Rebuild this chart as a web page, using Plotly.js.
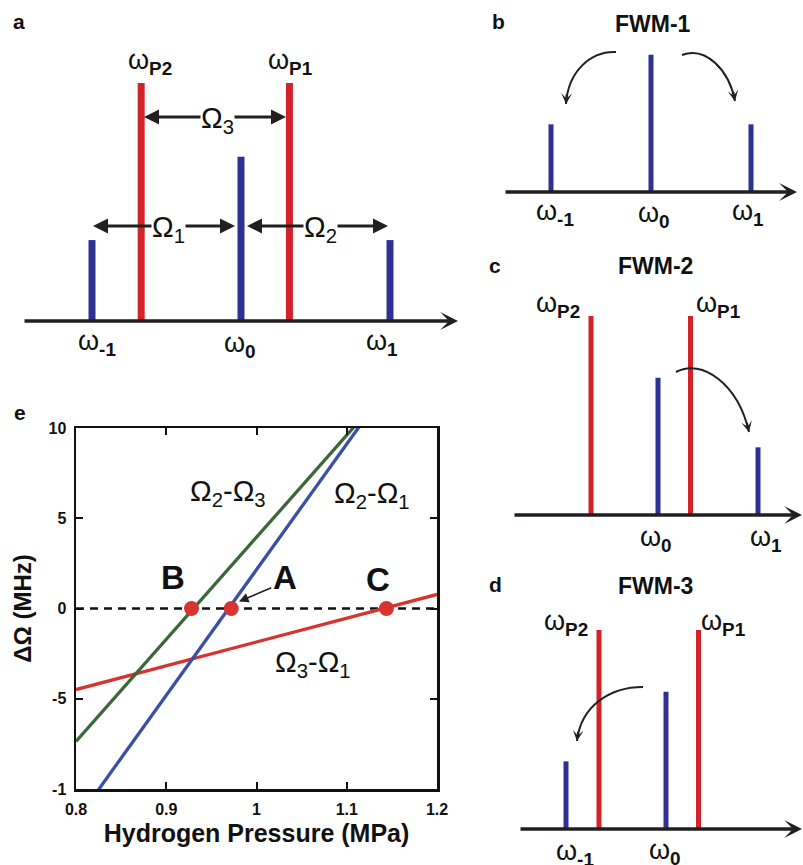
<!DOCTYPE html>
<html><head><meta charset="utf-8">
<script src="https://cdn.plot.ly/plotly-3.0.1.min.js"></script>
<style>html,body{margin:0;padding:0;background:#fff}#chart{width:803px;height:865px}</style>
</head><body><div id="chart"></div>
<script>
// ---------- spectra data (panels a-d) ----------
const bandSubs   = ['-1','P2','0','P1','1'];
const bandFreq   = [-1, -0.67, 0, 0.325, 1];
const bandAmp    = [0.34, 1, 0.69, 1, 0.34];
const bandIsPump = [false, true, false, true, false];
const panelBands = { a:[0,1,2,3,4], b:[0,2,4], c:[1,2,3,4], d:[0,1,2,3] };
const panelTitles = { b:'FWM-1', c:'FWM-2', d:'FWM-3' };
const shiftLabels = ['Ω<sub>1</sub>','Ω<sub>2</sub>','Ω<sub>3</sub>'];

// ---------- panel e data ----------
const pressureTicks    = [0.8, 0.9, 1.0, 1.1, 1.2];
const pressureTickText = ['0.8','0.9','1','1.1','1.2'];
const detuneTicks      = [-10, -5, 0, 5, 10];
const detuneTickText   = ['-1','-5','0','5','10'];
const p23 = [0.80, 0.90, 1.00, 1.10, 1.13];
const d23 = [-7.37, -1.71, 3.95, 9.61, 11.3];
const p21 = [0.82, 0.90, 1.00, 1.10, 1.13];
const d21 = [-10.38, -4.80, 2.16, 9.13, 11.2];
const p31 = [0.80, 0.90, 1.00, 1.10, 1.20];
const d31 = [-4.49, -3.17, -1.85, -0.53, 0.78];
const zeroP = [0.8, 1.2];
const zeroD = [0, 0];
const matchNames = ['B','A','C'];
const matchP = [0.928, 0.972, 1.144];
const matchD = [0, 0, 0];
const curveNames = ['Ω<sub>2</sub>-Ω<sub>3</sub>','Ω<sub>2</sub>-Ω<sub>1</sub>','Ω<sub>3</sub>-Ω<sub>1</sub>'];

// ---------- geometry / style ----------
const W = 803, H = 865;
const FONT = 'Liberation Sans, Arial, Helvetica, sans-serif';
const INK = '#231f20';
const RED = '#d2232a', BLUE = '#2e3192';
const PX = px => px / W, PY = py => 1 - py / H;

const geo = {
  a:{n:'',  origin:241, sx:149, base:321, sy:238, box:[0,475,28,368],   bw:0.047, tail:23,  tip:458, lw:3.5},
  b:{n:'2', origin:651, sx:100, base:192, sy:199, box:[488,803,32,238], bw:0.05,  tail:504, tip:797, lw:3.5},
  c:{n:'3', origin:658, sx:100, base:515, sy:199, box:[488,803,275,562],bw:0.05,  tail:513, tip:802, lw:3.5},
  d:{n:'4', origin:666, sx:100, base:829, sy:199, box:[488,803,592,865],bw:0.05,  tail:519, tip:806, lw:3.5}
};
const labelPos = {
  a:{0:[97,343],1:[150,62],2:[240,345],3:[290,62],4:[382,343]},
  b:{0:[555,213],2:[654,215],4:[748,213]},
  c:{1:[558,305],3:[718,305],2:[656,539],4:[766,539]},
  d:{1:[566,623],3:[723,623],0:[575,853],2:[665,852]}
};
const letterPos = {a:[19,22], b:[498,22], c:[495,266], d:[495,584], e:[20,412]};
const titlePos = {b:[653,24], c:[655,266], d:[655,586]};

const data = [];
const layout = {
  width: W, height: H,
  margin: {l:0, r:0, t:0, b:0},
  paper_bgcolor: '#fff', plot_bgcolor: 'rgba(0,0,0,0)',
  showlegend: false,
  font: {family: FONT, color: INK},
  annotations: [], shapes: []
};
const ann = layout.annotations, shp = layout.shapes;

function arrow(tipX, tipY, tailX, tailY, w, head, size){
  ann.push({xref:'paper', yref:'paper', x:PX(tipX), y:PY(tipY), ax:tailX-tipX, ay:tailY-tipY,
    text:'', showarrow:true, arrowhead:head, arrowwidth:w, arrowsize:size, arrowcolor:INK, standoff:0, startstandoff:0});
}
function label(px, py, text, size, bold, extra){
  ann.push(Object.assign({xref:'paper', yref:'paper', x:PX(px), y:PY(py), text:text, showarrow:false,
    xanchor:'center', yanchor:'middle', font:{family:FONT, size:size, color:'#111', weight: bold ? 'bold' : 'normal'}}, extra || {}));
}

// spectra panels
Object.keys(geo).forEach(k => {
  const g = geo[k];
  layout['xaxis'+g.n] = {domain:[g.box[0]/W, g.box[1]/W], range:[(g.box[0]-g.origin)/g.sx, (g.box[1]-g.origin)/g.sx],
    visible:false, fixedrange:true, anchor:'y'+g.n};
  layout['yaxis'+g.n] = {domain:[1-g.box[3]/H, 1-g.box[2]/H], range:[(g.base-g.box[3])/g.sy, (g.base-g.box[2])/g.sy],
    visible:false, fixedrange:true, anchor:'x'+g.n};
  const idx = panelBands[k];
  data.push({type:'bar', xaxis:'x'+g.n, yaxis:'y'+g.n,
    x: idx.map(i => bandFreq[i]), y: idx.map(i => bandAmp[i]),
    width: idx.map(() => g.bw),
    marker:{color: idx.map(i => bandIsPump[i] ? RED : BLUE), line:{width:0}},
    hoverinfo:'skip'});
  arrow(g.tip, g.base, g.tail, g.base, g.lw, 3, 0.85);
  idx.forEach(i => { const p = labelPos[k][i]; if (p) label(p[0], p[1], 'ω<sub><b>'+bandSubs[i]+'</b></sub>', 27, false); });
  if (panelTitles[k]) label(titlePos[k][0], titlePos[k][1], panelTitles[k], 23, true);
});
Object.keys(letterPos).forEach(k => label(letterPos[k][0], letterPos[k][1], k, 21, true));

// Omega double arrows in panel a
const omegaArrows = [
  {txt:2, c:[218,117], l:144, r:286, y:117},
  {txt:0, c:[168,226], l:93,  r:235, y:226},
  {txt:1, c:[320,226], l:247, r:388, y:226}
];
omegaArrows.forEach(o => {
  arrow(o.l, o.y, o.c[0], o.y, 3, 2, 1);
  arrow(o.r, o.y, o.c[0], o.y, 3, 2, 1);
});
omegaArrows.forEach(o => label(o.c[0], o.c[1]+3, shiftLabels[o.txt], 29, false, {bgcolor:'#fff', borderpad:0}));

// curved transfer arrows (b, c, d)
const curves = [
  {p:[[616,52],[590,51],[568,72],[566,104]]},
  {p:[[682,55],[706,46],[729,70],[735,101]]},
  {p:[[676,372],[702,358],[738,384],[749,432]]},
  {p:[[643,687],[611,687],[581,705],[577,741]]}
];
curves.forEach(c => {
  const p = c.p;
  shp.push({type:'path', xref:'paper', yref:'paper', layer:'above',
    path:'M'+PX(p[0][0])+','+PY(p[0][1])+' C'+p.slice(1).map(q => PX(q[0])+','+PY(q[1])).join(' '),
    line:{color:INK, width:2}});
  const dx = p[3][0]-p[2][0], dy = p[3][1]-p[2][1], L = Math.hypot(dx,dy);
  arrow(p[3][0], p[3][1], p[3][0]-dx/L*11, p[3][1]-dy/L*11, 2, 3, 0.9);
});

// ---------- panel e ----------
const tickFont = {family:FONT, size:16, color:'#111', weight:'bold'};
layout.xaxis5 = {domain:[76/W, 437/W], range:[0.8, 1.2], anchor:'y5',
  tickvals:pressureTicks, ticktext:pressureTickText, tickfont:tickFont,
  ticks:'inside', ticklen:7, tickwidth:2, tickcolor:'#111',
  showline:true, linewidth:2.5, linecolor:'#111', mirror:'ticks', showgrid:false, zeroline:false,
  ticklabelstandoff:4,
  title:{text:'Hydrogen Pressure (MPa)', font:{family:FONT, size:25, color:'#111', weight:'bold'}, standoff:8}};
layout.yaxis5 = {domain:[1-789/H, 1-428/H], range:[-10, 10], anchor:'x5',
  tickvals:detuneTicks, ticktext:detuneTickText, tickfont:tickFont,
  ticks:'inside', ticklen:7, tickwidth:2, tickcolor:'#111',
  showline:true, linewidth:2.5, linecolor:'#111', mirror:'ticks', showgrid:false, zeroline:false,
  ticklabelstandoff:4,
  title:{text:'ΔΩ (MHz)', font:{family:FONT, size:24, color:'#111', weight:'bold'}, standoff:10}};

data.push({type:'scatter', mode:'lines', xaxis:'x5', yaxis:'y5', x:zeroP, y:zeroD,
  line:{color:'#111', width:2.5, dash:'8px,6px'}, hoverinfo:'skip'});
data.push({type:'scatter', mode:'lines', xaxis:'x5', yaxis:'y5', x:p31, y:d31,
  line:{color:'#d6342f', width:3.3}, hoverinfo:'skip'});
data.push({type:'scatter', mode:'lines', xaxis:'x5', yaxis:'y5', x:p23, y:d23,
  line:{color:'#3c6839', width:3.3}, hoverinfo:'skip'});
data.push({type:'scatter', mode:'lines', xaxis:'x5', yaxis:'y5', x:p21, y:d21,
  line:{color:'#3850a6', width:3.3}, hoverinfo:'skip'});
data.push({type:'scatter', mode:'markers', xaxis:'x5', yaxis:'y5', x:matchP, y:matchD,
  marker:{color:'#d6342f', size:15}, cliponaxis:false, hoverinfo:'skip'});

const matchLabelPos = [[0.907,1.7],[1.032,1.7],[1.135,1.6]];
matchNames.forEach((t,i) => ann.push({xref:'x5', yref:'y5', x:matchLabelPos[i][0], y:matchLabelPos[i][1], text:t,
  showarrow:false, font:{family:FONT, size:33, color:'#111', weight:'bold'}}));
ann.push({xref:'x5', yref:'y5', x:0.9806, y:0.39, axref:'x5', ayref:'y5', ax:1.018, ay:1.18, text:'',
  showarrow:true, arrowhead:2, arrowwidth:1.6, arrowsize:1.2, arrowcolor:INK, standoff:0});
const curveLabelPos = [[0.968,6.4],[1.128,6.3],[1.063,-3.1]];
curveNames.forEach((t,i) => ann.push({xref:'x5', yref:'y5', x:curveLabelPos[i][0], y:curveLabelPos[i][1], text:t,
  showarrow:false, font:{family:FONT, size:29, color:'#111'}}));

Plotly.newPlot('chart', data, layout, {displayModeBar:false, staticPlot:true});
</script></body></html>
